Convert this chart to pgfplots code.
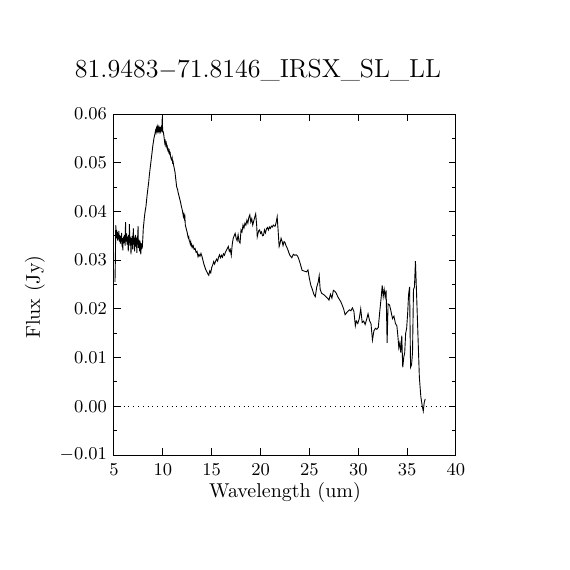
\documentclass[border=0pt]{standalone}
\usepackage{pgfplots}
\pgfplotsset{compat=1.18}
\begin{document}
\begin{tikzpicture}
\begin{axis}[
    scale only axis,
    width=171pt, height=170.5pt,
    xmin=5, xmax=40, ymin=-0.01, ymax=0.06,
    xtick={5,10,...,40},
    ytick={-0.01,0,0.01,0.02,0.03,0.04,0.05,0.06},
    minor y tick num=1,
    tick align=inside,
    major tick length=3.5pt, minor tick length=1.75pt,
    axis line style={line width=0.5pt},
    every tick/.style={black, line width=0.5pt},
    tick label style={font=\fontsize{9}{10}\selectfont},
    yticklabel style={/pgf/number format/.cd, fixed, fixed zerofill, precision=2},
    xticklabel style={yshift=-1pt},
    scaled y ticks=false,
    xlabel={Wavelength (um)},
    ylabel={Flux (Jy)},
    label style={font=\fontsize{10}{12}\selectfont},
    xlabel style={at={(axis description cs:0.5,-0.1085)}, anchor=center},
    ylabel style={at={(axis description cs:-0.231,0.463)}, anchor=center},
    title={81.9483$-$71.8146\_IRSX\_SL\_LL},
    title style={font=\fontsize{13}{15}\selectfont, at={(axis description cs:0.421,1.094)}, anchor=center},
    clip=true,
]
\addplot[black, dotted, line width=0.4pt] coordinates {(5,0) (40,0)};
\addplot[black, line width=0.45pt] table {
x y
5.10 0.0255
5.14 0.0300
5.18 0.0372
5.22 0.0350
5.26 0.0362
5.30 0.0345
5.34 0.0358
5.38 0.0340
5.42 0.0355
5.46 0.0348
5.50 0.0360
5.54 0.0338
5.58 0.0352
5.62 0.0346
5.66 0.0334
5.70 0.0350
5.74 0.0342
5.78 0.0356
5.82 0.0328
5.86 0.0345
5.90 0.0320
5.94 0.0340
5.98 0.0348
6.02 0.0335
6.06 0.0352
6.10 0.0342
6.14 0.0330
6.18 0.0378
6.22 0.0345
6.26 0.0338
6.30 0.0355
6.34 0.0332
6.38 0.0348
6.42 0.0340
6.46 0.0318
6.50 0.0352
6.54 0.0335
6.58 0.0374
6.62 0.0330
6.66 0.0348
6.70 0.0340
6.74 0.0312
6.78 0.0345
6.82 0.0336
6.86 0.0350
6.90 0.0322
6.94 0.0342
6.98 0.0365
7.02 0.0332
7.06 0.0345
7.10 0.0318
7.14 0.0340
7.18 0.0352
7.22 0.0328
7.26 0.0346
7.30 0.0338
7.34 0.0315
7.38 0.0350
7.42 0.0335
7.46 0.0370
7.50 0.0325
7.54 0.0342
7.58 0.0332
7.62 0.0318
7.66 0.0340
7.70 0.0325
7.74 0.0312
7.78 0.0335
7.82 0.0322
7.86 0.0330
7.90 0.0328
7.95 0.0345
8.00 0.0366
8.05 0.0375
8.10 0.0386
8.15 0.0395
8.20 0.0402
8.27 0.0410
8.32 0.0420
8.38 0.0432
8.44 0.0442
8.50 0.0452
8.55 0.0460
8.60 0.0471
8.66 0.0482
8.72 0.0492
8.78 0.0502
8.84 0.0512
8.90 0.0522
8.96 0.0533
9.02 0.0541
9.08 0.0549
9.14 0.0555
9.20 0.0560
9.25 0.0566
9.30 0.0562
9.35 0.0571
9.40 0.0566
9.45 0.0573
9.50 0.0565
9.55 0.0572
9.60 0.0566
9.65 0.0571
9.70 0.0564
9.75 0.0570
9.80 0.0565
9.85 0.0572
9.90 0.0568
9.94 0.0594
9.98 0.0566
10.05 0.0563
10.10 0.0556
10.15 0.0548
10.20 0.0540
10.25 0.0544
10.30 0.0536
10.35 0.0540
10.40 0.0532
10.45 0.0534
10.50 0.0526
10.55 0.0528
10.60 0.0522
10.65 0.0525
10.70 0.0518
10.75 0.0520
10.80 0.0512
10.85 0.0508
10.90 0.0506
10.95 0.0510
11.00 0.0500
11.05 0.0502
11.10 0.0495
11.15 0.0490
11.20 0.0485
11.25 0.0480
11.30 0.0470
11.35 0.0462
11.40 0.0452
11.45 0.0448
11.50 0.0446
11.55 0.0440
11.60 0.0436
11.65 0.0432
11.70 0.0428
11.75 0.0424
11.80 0.0420
11.85 0.0415
11.90 0.0410
11.95 0.0406
12.00 0.0402
12.05 0.0396
12.10 0.0390
12.15 0.0394
12.20 0.0386
12.25 0.0390
12.30 0.0372
12.35 0.0368
12.40 0.0364
12.45 0.0360
12.50 0.0356
12.55 0.0350
12.60 0.0346
12.65 0.0348
12.70 0.0340
12.75 0.0338
12.80 0.0334
12.85 0.0338
12.90 0.0330
12.95 0.0332
13.00 0.0326
13.10 0.0330
13.20 0.0322
13.30 0.0324
13.40 0.0316
13.50 0.0318
13.60 0.0307
13.70 0.0312
13.80 0.0308
13.90 0.0314
14.00 0.0308
14.10 0.0300
14.20 0.0292
14.30 0.0286
14.40 0.0280
14.50 0.0276
14.60 0.0272
14.70 0.0269
14.80 0.0278
14.90 0.0274
15.00 0.0285
15.10 0.0290
15.20 0.0297
15.30 0.0292
15.40 0.0298
15.50 0.0302
15.60 0.0298
15.70 0.0306
15.80 0.0311
15.90 0.0305
16.00 0.0310
16.10 0.0306
16.20 0.0313
16.30 0.0310
16.40 0.0316
16.50 0.0320
16.60 0.0324
16.70 0.0328
16.80 0.0318
16.90 0.0322
17.00 0.0310
17.10 0.0332
17.20 0.0345
17.30 0.0350
17.40 0.0355
17.50 0.0345
17.60 0.0340
17.70 0.0352
17.80 0.0338
17.90 0.0335
18.00 0.0362
18.10 0.0358
18.20 0.0372
18.30 0.0366
18.40 0.0376
18.50 0.0372
18.60 0.0382
18.70 0.0376
18.80 0.0388
18.90 0.0393
19.00 0.0378
19.10 0.0385
19.20 0.0372
19.30 0.0380
19.40 0.0388
19.50 0.0395
19.60 0.0372
19.66 0.0348
19.80 0.0360
19.90 0.0362
20.00 0.0355
20.10 0.0358
20.20 0.0350
20.30 0.0351
20.40 0.0362
20.50 0.0356
20.60 0.0364
20.70 0.0367
20.80 0.0362
20.90 0.0368
21.00 0.0365
21.10 0.0370
21.20 0.0368
21.30 0.0372
21.40 0.0370
21.50 0.0370
21.60 0.0378
21.70 0.0389
21.80 0.0360
21.90 0.0328
22.00 0.0335
22.10 0.0345
22.20 0.0339
22.30 0.0330
22.40 0.0338
22.50 0.0336
22.60 0.0330
22.70 0.0326
22.80 0.0321
22.90 0.0315
23.00 0.0310
23.20 0.0305
23.35 0.0312
23.50 0.0310
23.65 0.0311
23.80 0.0308
23.95 0.0300
24.10 0.0290
24.25 0.0279
24.40 0.0278
24.55 0.0277
24.70 0.0276
24.85 0.0280
25.00 0.0262
25.15 0.0248
25.30 0.0240
25.45 0.0230
25.60 0.0225
25.75 0.0245
25.90 0.0255
26.00 0.0268
26.10 0.0240
26.25 0.0232
26.40 0.0230
26.55 0.0228
26.70 0.0225
26.85 0.0222
27.00 0.0218
27.15 0.0230
27.30 0.0222
27.45 0.0238
27.60 0.0236
27.75 0.0232
27.90 0.0225
28.05 0.0220
28.20 0.0215
28.35 0.0208
28.50 0.0200
28.65 0.0188
28.80 0.0192
28.95 0.0195
29.10 0.0198
29.25 0.0196
29.40 0.0202
29.55 0.0195
29.70 0.0165
29.80 0.0175
29.95 0.0170
30.10 0.0180
30.25 0.0200
30.40 0.0172
30.55 0.0175
30.70 0.0168
30.85 0.0178
31.00 0.0190
31.15 0.0176
31.30 0.0170
31.45 0.0136
31.60 0.0155
31.75 0.0160
31.90 0.0158
32.05 0.0162
32.20 0.0195
32.35 0.0225
32.45 0.0248
32.55 0.0225
32.65 0.0240
32.75 0.0225
32.85 0.0238
32.95 0.0130
33.05 0.0210
33.20 0.0208
33.35 0.0195
33.50 0.0180
33.65 0.0185
33.80 0.0170
33.95 0.0165
34.05 0.0145
34.15 0.0120
34.25 0.0130
34.35 0.0110
34.45 0.0145
34.55 0.0080
34.65 0.0100
34.75 0.0110
34.85 0.0150
34.95 0.0160
35.05 0.0190
35.15 0.0230
35.25 0.0245
35.35 0.0080
35.45 0.0085
35.55 0.0110
35.65 0.0240
35.75 0.0245
35.85 0.0298
35.95 0.0240
36.10 0.0150
36.25 0.0060
36.40 0.0020
36.55 0.0000
36.65 -0.0010
36.75 0.0008
36.85 0.0015
};
\end{axis}
\path[use as bounding box] (-57pt,-57.5pt) rectangle (228pt,227.5pt);
\end{tikzpicture}
\end{document}
